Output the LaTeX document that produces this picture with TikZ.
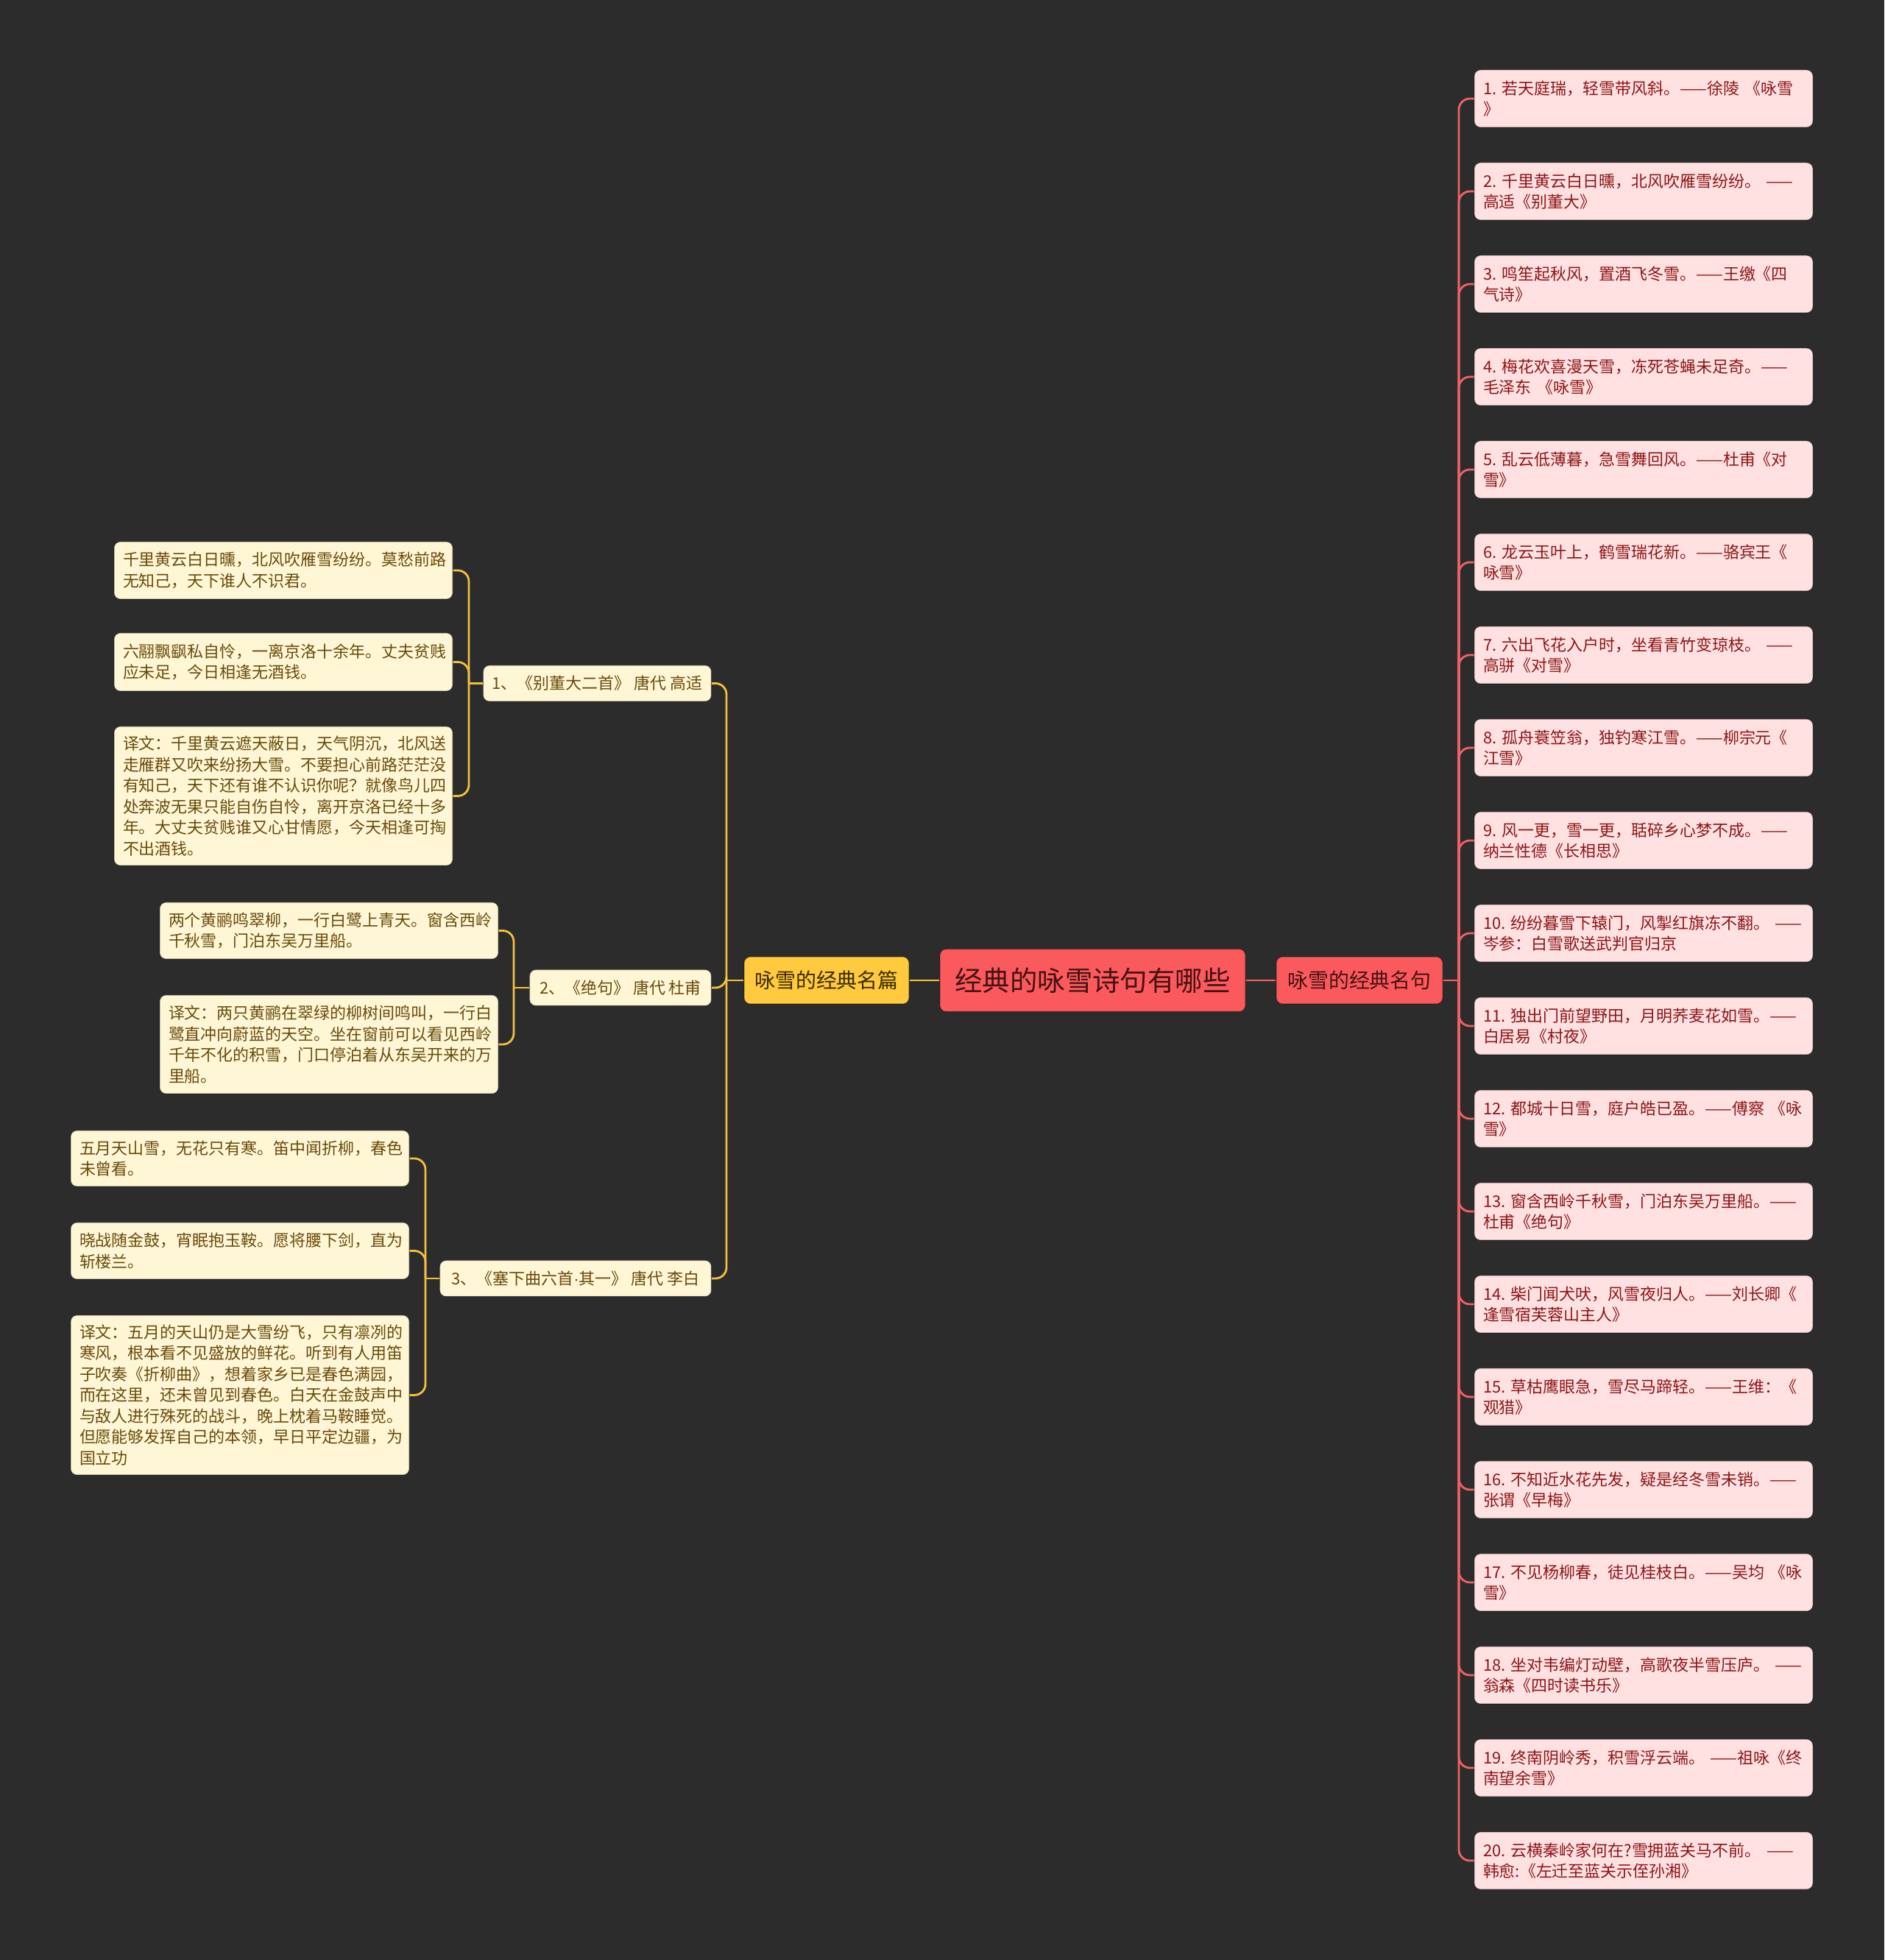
\documentclass[tikz,border=0pt]{standalone}
\usepackage{fontspec}
\setmainfont{Noto Sans CJK SC}
\newfontfamily\latinfont{Liberation Sans}
\usepackage{xcolor}
\definecolor{mapbg}{RGB}{44,44,44}
\definecolor{mapred}{RGB}{250,90,94}
\definecolor{mapyellow}{RGB}{255,202,62}
\definecolor{mapcream}{RGB}{255,246,214}
\definecolor{mappink}{RGB}{255,225,226}
\definecolor{creamtext}{RGB}{105,75,10}
\definecolor{pinktext}{RGB}{140,22,22}
\definecolor{redtext}{RGB}{70,18,18}
\definecolor{yellowtext}{RGB}{60,44,0}
\definecolor{yellowline}{RGB}{242,192,62}
\definecolor{redline}{RGB}{240,98,100}

\tikzset{
  mapbox/.style={rounded corners=0.17cm, draw=black, draw opacity=0.35, line width=0.6pt},
  creambox/.style={mapbox, fill=mapcream, text=creamtext, align=left,
    font=\fontsize{12.5}{16.2}\selectfont, text width=8.72cm, inner xsep=0.24cm},
  pinkbox/.style={mapbox, fill=mappink, text=pinktext, align=left, minimum height=1.56cm,
    font=\fontsize{12.5}{16.2}\selectfont, text width=8.72cm, inner xsep=0.24cm},
  subbox/.style={mapbox, fill=mapcream, text=creamtext, anchor=east, minimum height=0.98cm,
    font=\fontsize{12.5}{16.2}\selectfont, inner xsep=0.2cm},
  yline/.style={yellowline, line width=1.6pt},
  rline/.style={redline, line width=1.6pt}
}

\begin{document}
\begin{tikzpicture}
  % --- background ---
  \fill[mapbg] (0,0) rectangle (51.2,53.26);

  % --- centre and main branches ---
  \node[mapbox, fill=mapred, text=redtext, minimum width=8.3cm, minimum height=1.7cm,
    font=\fontsize{21.3}{24}\selectfont] (title) at (29.69,26.62) {经典的咏雪诗句有哪些};
  \node[mapbox, fill=mapyellow, text=yellowtext, minimum width=4.48cm, minimum height=1.28cm,
    font=\fontsize{15.9}{18}\selectfont] (mingpian) at (22.46,26.62) {咏雪的经典名篇};
  \node[mapbox, fill=mapred, text=redtext, minimum width=4.52cm, minimum height=1.28cm,
    font=\fontsize{15.9}{18}\selectfont] (mingju) at (36.94,26.62) {咏雪的经典名句};

  \draw[yline] (title.west) -- (mingpian.east);
  \draw[rline] (title.east) -- (mingju.west);

  \coordinate (lspine) at (19.74,26.62);
  \coordinate (rspine) at (39.64,26.62);
  \draw[yline] (mingpian.west) -- (lspine);
  \draw[rline] (mingju.east) -- (rspine);

  % --- left: the three poems ---
  \node[subbox, minimum width=6.2cm] (s1) at (19.34,34.69) {1、《别董大二首》 唐代 高适};
  \node[subbox, minimum width=4.94cm] (s2) at (19.34,26.42) {2、《绝句》 唐代 杜甫};
  \node[subbox, minimum width=7.38cm] (s3) at (19.34,18.52) {3、《塞下曲六首{\latinfont ·}其一》 唐代 李白};

  \foreach \s in {s1,s2,s3}{
    \draw[yline, rounded corners=0.3cm] (lspine) |- (\s.east);
  }

  % poem 1
  \node[creambox, minimum height=1.56cm] (p1a) at (7.70,37.76)
    {千里黄云白日曛，北风吹雁雪纷纷。莫愁前路\\无知己，天下谁人不识君。};
  \node[creambox, minimum height=1.58cm] (p1b) at (7.70,35.27)
    {六翮飘飖私自怜，一离京洛十余年。丈夫贫贱\\应未足，今日相逢无酒钱。};
  \node[creambox, minimum height=3.78cm] (p1c) at (7.70,31.63)
    {译文：千里黄云遮天蔽日，天气阴沉，北风送\\走雁群又吹来纷扬大雪。不要担心前路茫茫没\\有知己，天下还有谁不认识你呢？就像鸟儿四\\处奔波无果只能自伤自怜，离开京洛已经十多\\年。大丈夫贫贱谁又心甘情愿，今天相逢可掏\\不出酒钱。};

  % poem 2
  \node[creambox, minimum height=1.54cm] (p2a) at (8.94,27.97)
    {两个黄鹂鸣翠柳，一行白鹭上青天。窗含西岭\\千秋雪，门泊东吴万里船。};
  \node[creambox, minimum height=2.68cm] (p2b) at (8.94,24.88)
    {译文：两只黄鹂在翠绿的柳树间鸣叫，一行白\\鹭直冲向蔚蓝的天空。坐在窗前可以看见西岭\\千年不化的积雪，门口停泊着从东吴开来的万\\里船。};

  % poem 3
  \node[creambox, minimum height=1.52cm] (p3a) at (6.52,21.78)
    {五月天山雪，无花只有寒。笛中闻折柳，春色\\未曾看。};
  \node[creambox, minimum height=1.54cm] (p3b) at (6.52,19.27)
    {晓战随金鼓，宵眠抱玉鞍。愿将腰下剑，直为\\斩楼兰。};
  \node[creambox, minimum height=4.34cm] (p3c) at (6.52,15.35)
    {译文：五月的天山仍是大雪纷飞，只有凛冽的\\寒风，根本看不见盛放的鲜花。听到有人用笛\\子吹奏《折柳曲》，想着家乡已是春色满园，\\而在这里，还未曾见到春色。白天在金鼓声中\\与敌人进行殊死的战斗，晚上枕着马鞍睡觉。\\但愿能够发挥自己的本领，早日平定边疆，为\\国立功};

  \coordinate (g1spine) at (12.74,34.69);
  \coordinate (g2spine) at (13.96,26.42);
  \coordinate (g3spine) at (11.56,18.52);
  \draw[yline] (s1.west) -- (g1spine);
  \draw[yline] (s2.west) -- (g2spine);
  \draw[yline] (s3.west) -- (g3spine);
  \foreach \g/\p in {g1spine/p1a, g1spine/p1b, g1spine/p1c, g2spine/p2a, g2spine/p2b,
                     g3spine/p3a, g3spine/p3b, g3spine/p3c}{
    \draw[yline, rounded corners=0.3cm] (\g) |- (\p.east);
  }

  % --- right: twenty famous lines ---
  \foreach \n/\txt in {
    1/{1.~若天庭瑞，轻雪带风斜。——徐陵~《咏雪\\》},
    2/{2.~千里黄云白日曛，北风吹雁雪纷纷。~——\\高适《别董大》},
    3/{3.~鸣笙起秋风，置酒飞冬雪。——王缴《四\\气诗》},
    4/{4.~梅花欢喜漫天雪，冻死苍蝇未足奇。——\\毛泽东~《咏雪》},
    5/{5.~乱云低薄暮，急雪舞回风。——杜甫《对\\雪》},
    6/{6.~龙云玉叶上，鹤雪瑞花新。——骆宾王《\\咏雪》},
    7/{7.~六出飞花入户时，坐看青竹变琼枝。~——\\高骈《对雪》},
    8/{8.~孤舟蓑笠翁，独钓寒江雪。——柳宗元《\\江雪》},
    9/{9.~风一更，雪一更，聒碎乡心梦不成。——\\纳兰性德《长相思》},
    10/{10.~纷纷暮雪下辕门，风掣红旗冻不翻。~——\\岑参：白雪歌送武判官归京},
    11/{11.~独出门前望野田，月明荞麦花如雪。——\\白居易《村夜》},
    12/{12.~都城十日雪，庭户皓已盈。——傅察~《咏\\雪》},
    13/{13.~窗含西岭千秋雪，门泊东吴万里船。——\\杜甫《绝句》},
    14/{14.~柴门闻犬吠，风雪夜归人。——刘长卿《\\逢雪宿芙蓉山主人》},
    15/{15.~草枯鹰眼急，雪尽马蹄轻。——王维：《\\观猎》},
    16/{16.~不知近水花先发，疑是经冬雪未销。——\\张谓《早梅》},
    17/{17.~不见杨柳春，徒见桂枝白。——吴均~《咏\\雪》},
    18/{18.~坐对韦编灯动壁，高歌夜半雪压庐。~——\\翁森《四时读书乐》},
    19/{19.~终南阴岭秀，积雪浮云端。~——祖咏《终\\南望余雪》},
    20/{20.~云横秦岭家何在?雪拥蓝关马不前。~——\\韩愈:《左迁至蓝关示侄孙湘》}
  }{
    \node[pinkbox] (ju\n) at (44.66,{50.58-2.52*(\n-1)}) {\txt};
    \draw[rline, rounded corners=0.3cm] (rspine) |- (ju\n.west);
  }

\end{tikzpicture}
\end{document}
